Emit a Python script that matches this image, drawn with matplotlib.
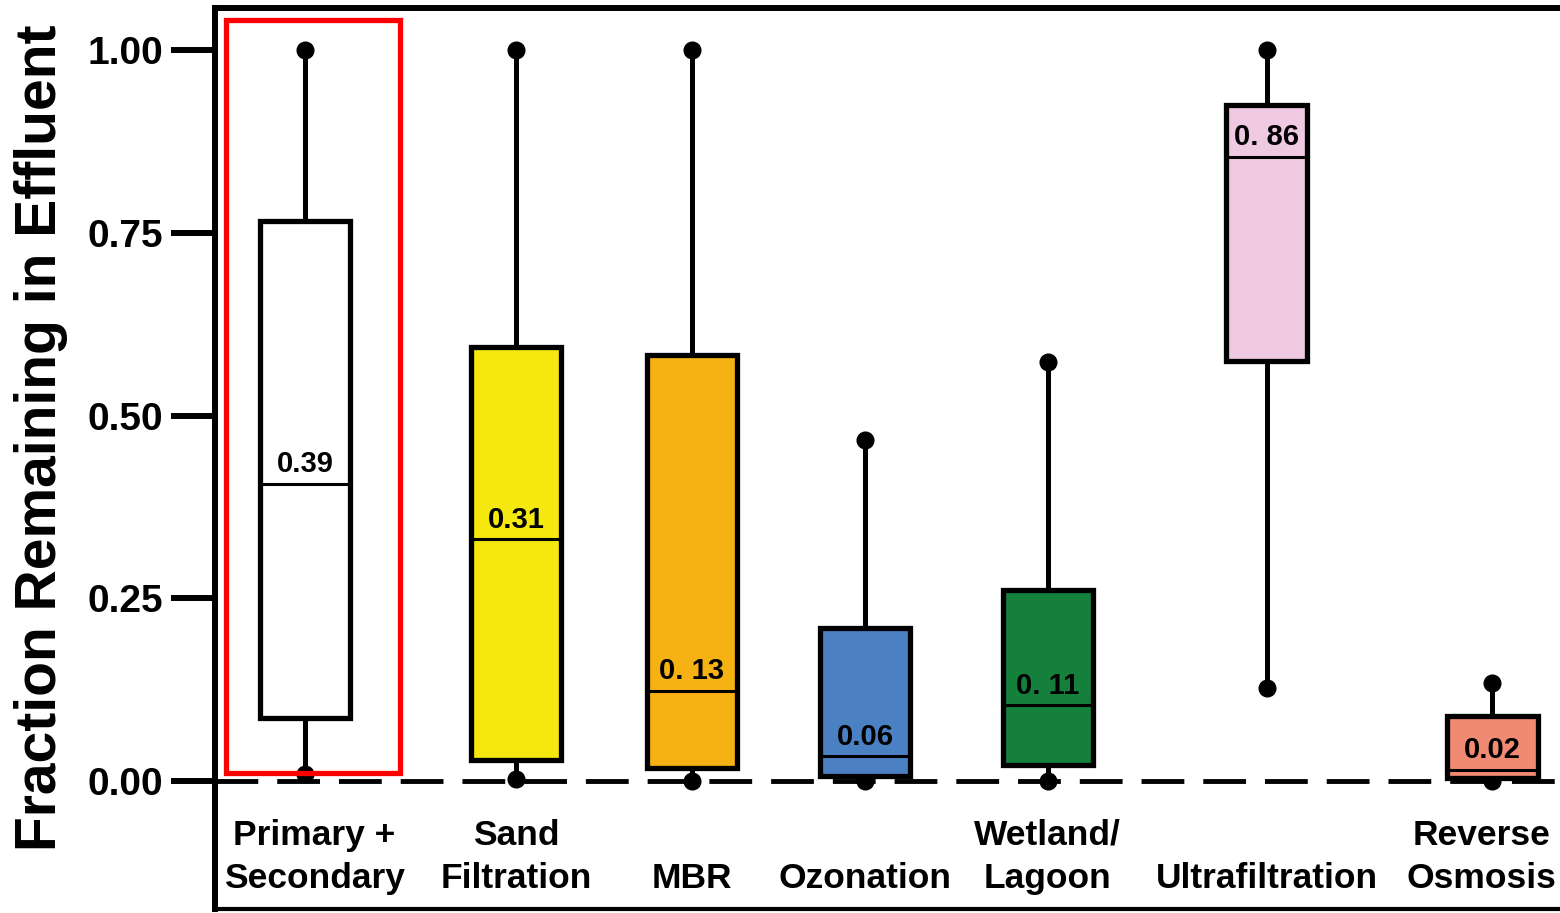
import matplotlib
matplotlib.use("Agg")
import matplotlib.pyplot as plt
from matplotlib.patches import Rectangle

# data
labels = ["Primary +\nSecondary", "Sand\nFiltration", "MBR", "Ozonation",
          "Wetland/\nLagoon", "Ultrafiltration", "Reverse\nOsmosis"]
whislo = [0.01, 0.003, 0.0, 0.0, 0.0, 0.127, 0.0]
q1 = [0.087, 0.029, 0.018, 0.007, 0.022, 0.575, 0.004]
med = [0.407, 0.331, 0.124, 0.034, 0.104, 0.854, 0.016]
q3 = [0.766, 0.594, 0.583, 0.210, 0.261, 0.925, 0.089]
whishi = [1.0, 1.0, 1.0, 0.466, 0.574, 1.0, 0.135]
med_text = ["0.39", "0.31", "0. 13", "0.06", "0. 11", "0. 86", "0.02"]
colors = ["#ffffff", "#f5e80f", "#f6b212", "#4b80c3", "#14803c", "#efc8e2", "#f08a72"]
positions = [0.5, 1.667, 2.639, 3.6, 4.611, 5.822, 7.072]
widths = [0.5, 0.5, 0.5, 0.5, 0.5, 0.45, 0.5]
label_shift = [0.05, 0, 0, 0, 0, 0, -0.06]

bold_font = ["Liberation Sans", "DejaVu Sans"]

fig = plt.figure(figsize=(15.6, 9.13), dpi=100)
ax = fig.add_axes([0.1378, 0.004, 0.8652, 0.987])

ax.axhline(0, color="black", lw=3.5, ls=(0, (8.8, 3.9)), zorder=1)

stats = []
for i in range(len(labels)):
    stats.append(dict(med=med[i], q1=q1[i], q3=q3[i], whislo=whislo[i],
                      whishi=whishi[i], fliers=[]))

bp = ax.bxp(stats, positions=positions, widths=widths, patch_artist=True,
            showcaps=False, showfliers=False,
            boxprops=dict(linewidth=3.8, edgecolor="black"),
            whiskerprops=dict(linewidth=3.6, color="black"),
            medianprops=dict(linewidth=2.2, color="black"),
            zorder=2)
for patch, c in zip(bp["boxes"], colors):
    patch.set_facecolor(c)

ax.plot(positions, whishi, "o", color="black", ms=12, zorder=3)
ax.plot(positions, whislo, "o", color="black", ms=12, zorder=0.5)

for x, m, t in zip(positions, med, med_text):
    ax.annotate(t, (x, m), xytext=(0, 4), textcoords="offset points",
                ha="center", va="bottom", fontsize=21, fontweight="bold",
                family=bold_font, zorder=4)

for x, dx, lab in zip(positions, label_shift, labels):
    ax.text(x + dx, -0.146, lab, ha="center", va="baseline",
            multialignment="center", fontsize=25.5, fontweight="bold",
            family=bold_font, linespacing=1.4, clip_on=False)

ax.add_patch(Rectangle((0.061, 0.011), 0.961, 1.03, fill=False,
                       edgecolor="#ff0000", lw=3.8, zorder=5))

ax.set_xlim(0, 7.472)
ax.set_ylim(-0.175, 1.057)
ax.set_xticks([])
ax.set_yticks([0, 0.25, 0.5, 0.75, 1.0])
ax.set_yticklabels(["0.00", "0.25", "0.50", "0.75", "1.00"])
ax.tick_params(axis="y", length=32, width=4.3, pad=5, labelsize=28)
for t in ax.get_yticklabels():
    t.set_fontweight("bold")
    t.set_family(bold_font)

ax.spines["left"].set_linewidth(4.3)
ax.spines["top"].set_linewidth(4.3)
ax.spines["bottom"].set_linewidth(3)
ax.spines["right"].set_visible(False)

fig.text(0.026, 0.52, "Fraction Remaining in Effluent", rotation=90,
         ha="center", va="center", fontsize=41, fontweight="bold",
         family=bold_font)

fig.savefig("out.png", dpi=100)
